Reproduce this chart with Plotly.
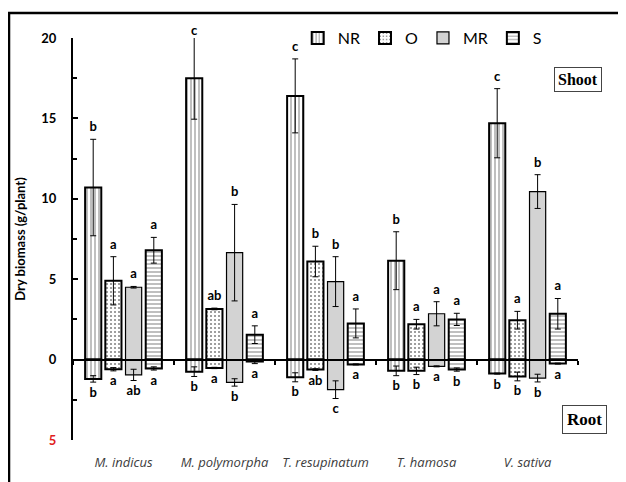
import plotly.graph_objects as go

categories = ["M. indicus", "M. polymorpha", "T. resupinatum", "T. hamosa", "V. sativa"]
treatments = ["NR", "O", "MR", "S"]

shoot_NR = [10.7, 17.5, 16.4, 6.15, 14.7]
shoot_NR_err = [3.0, 2.55, 2.3, 1.8, 2.15]
shoot_O = [4.9, 3.15, 6.1, 2.2, 2.45]
shoot_O_err = [1.5, 0.05, 0.95, 0.3, 0.55]
shoot_MR = [4.5, 6.65, 4.85, 2.85, 10.45]
shoot_MR_err = [0.05, 3.0, 1.55, 0.75, 1.05]
shoot_S = [6.8, 1.55, 2.25, 2.5, 2.85]
shoot_S_err = [0.8, 0.55, 0.9, 0.38, 0.95]

root_NR = [1.2, 0.75, 1.1, 0.7, 0.87]
root_NR_err = [0.2, 0.3, 0.28, 0.3, 0.03]
root_O = [0.6, 0.52, 0.62, 0.7, 1.05]
root_O_err = [0.1, 0.04, 0.05, 0.23, 0.27]
root_MR = [0.95, 1.42, 1.87, 0.42, 1.15]
root_MR_err = [0.35, 0.23, 0.55, 0.03, 0.24]
root_S = [0.55, 0.12, 0.3, 0.62, 0.25]
root_S_err = [0.1, 0.13, 0.03, 0.1, 0.03]

shoot_letters_NR = ["b", "c", "c", "b", "c"]
shoot_letters_O = ["a", "ab", "b", "a", "a"]
shoot_letters_MR = ["a", "b", "b", "a", "b"]
shoot_letters_S = ["a", "a", "a", "a", "a"]
root_letters_NR = ["b", "b", "b", "b", "b"]
root_letters_O = ["a", "a", "ab", "b", "b"]
root_letters_MR = ["ab", "b", "c", "a", "b"]
root_letters_S = ["a", "a", "a", "b", "a"]

Y_MIN, Y_MAX = -5, 20
y_tickvals = [-5, 0, 5, 10, 15, 20]
y_ticktext = ["<span style='color:#e02020'>5</span>", "0", "5", "10", "15", "20"]

LETTER_GAP = 0.3  # data-unit spacing between error bar end and letter

series = {
    "NR": (shoot_NR, shoot_NR_err, root_NR, root_NR_err, shoot_letters_NR, root_letters_NR),
    "O": (shoot_O, shoot_O_err, root_O, root_O_err, shoot_letters_O, root_letters_O),
    "MR": (shoot_MR, shoot_MR_err, root_MR, root_MR_err, shoot_letters_MR, root_letters_MR),
    "S": (shoot_S, shoot_S_err, root_S, root_S_err, shoot_letters_S, root_letters_S),
}

styles = {
    "NR": dict(color="white", pattern=dict(shape="|", fgcolor="black", bgcolor="white", size=4, solidity=0.25), line=dict(color="black", width=2)),
    "O": dict(color="white", pattern=dict(shape=".", fgcolor="black", bgcolor="white", size=4, solidity=0.2), line=dict(color="black", width=2)),
    "MR": dict(color="#d3d3d3", line=dict(color="black", width=1.2)),
    "S": dict(color="white", pattern=dict(shape="-", fgcolor="black", bgcolor="white", size=4, solidity=0.25), line=dict(color="black", width=2)),
}

letter_font = dict(family="Lato, Arial", size=13, color="black", weight="bold")
err_style = dict(type="data", color="black", thickness=1, width=3)

fig = go.Figure()
for t in treatments:
    sv, se, rv, re, sl, rl = series[t]
    fig.add_trace(go.Bar(
        x=categories, y=sv, name=t, offsetgroup=t, legendgroup=t,
        marker=styles[t], error_y=dict(array=se, **err_style), hoverinfo="skip",
    ))
    fig.add_trace(go.Bar(
        x=categories, y=[-v for v in rv], name=t, offsetgroup=t, legendgroup=t,
        showlegend=False, marker=styles[t], error_y=dict(array=re, **err_style), hoverinfo="skip",
    ))

for t in treatments:
    sv, se, rv, re, sl, rl = series[t]
    fig.add_trace(go.Scatter(
        x=categories, y=[min(v + e + LETTER_GAP, Y_MAX) for v, e in zip(sv, se)], offsetgroup=t,
        mode="text", text=sl, textposition="top center", textfont=letter_font,
        showlegend=False, cliponaxis=False, hoverinfo="skip",
    ))
    fig.add_trace(go.Scatter(
        x=categories, y=[-(v + e + LETTER_GAP) for v, e in zip(rv, re)], offsetgroup=t,
        mode="text", text=rl, textposition="bottom center", textfont=letter_font,
        showlegend=False, cliponaxis=False, hoverinfo="skip",
    ))

# the page body adds an 8 px offset; the figure is sized so that it ends at the window edge
fig.update_layout(
    width=618, height=474,
    margin=dict(l=65, r=48, t=30, b=42, autoexpand=False),
    paper_bgcolor="white", plot_bgcolor="white",
    barmode="group", bargap=0.2, bargroupgap=0.2,
    scattermode="group", scattergap=0.2,
    font=dict(family="Lato, Arial", color="black"),
    showlegend=True,
    legend=dict(orientation="h", x=0.445, xanchor="left", y=1.0, yanchor="middle",
                font=dict(size=16, family="Lato, Arial", color="black"),
                bgcolor="rgba(0,0,0,0)", itemwidth=30, traceorder="normal"),
    xaxis=dict(
        type="category", anchor="free", position=0.2,
        showline=True, linecolor="black", linewidth=2,
        ticks="outside", tickson="boundaries", ticklen=4, tickwidth=2, tickcolor="black",
        showticklabels=True, ticklabelstandoff=91,
        tickfont=dict(size=13, color="#3c3c3c", style="italic", family="Open Sans, Lato"),
        showgrid=False, zeroline=False, layer="above traces", automargin=False,
        range=[-0.5, 4.5],
    ),
    yaxis=dict(
        range=[Y_MIN, Y_MAX], tickvals=y_tickvals, ticktext=y_ticktext,
        showline=True, linecolor="black", linewidth=2,
        ticks="inside", ticklen=5, tickwidth=2, tickcolor="black",
        minor=dict(dtick=2.5, tick0=0, ticks="inside", ticklen=4, tickwidth=1.5, tickcolor="black"),
        tickfont=dict(size=13, weight="bold", family="Lato, Arial"),
        ticklabelstandoff=12,
        showgrid=False, zeroline=False, layer="above traces", automargin=False,
        title=dict(text="Dry biomass (g/plant)", font=dict(size=13, weight="bold", family="Lato, Arial"), standoff=13),
    ),
    shapes=[dict(type="rect", xref="paper", yref="paper", x0=-0.1267, x1=1.2, y0=-0.3, y1=1.062,
                 line=dict(color="black", width=2.5), fillcolor="rgba(0,0,0,0)", layer="above")],
    annotations=[
        dict(text="<b>Shoot</b>", xref="paper", yref="paper", x=1.0, y=0.898, xanchor="center", yanchor="middle",
             showarrow=False,
             font=dict(family="Liberation Serif, Times New Roman", size=16, color="black"),
             bordercolor="#444444", borderwidth=1, borderpad=3, bgcolor="white"),
        dict(text="<b>Root</b>", xref="paper", yref="paper", x=1.0119, y=0.05, xanchor="center", yanchor="middle",
             showarrow=False,
             font=dict(family="Liberation Serif, Times New Roman", size=17, color="black"),
             bordercolor="#444444", borderwidth=1, borderpad=4, bgcolor="white"),
    ],
)

fig.write_html("out.html")
